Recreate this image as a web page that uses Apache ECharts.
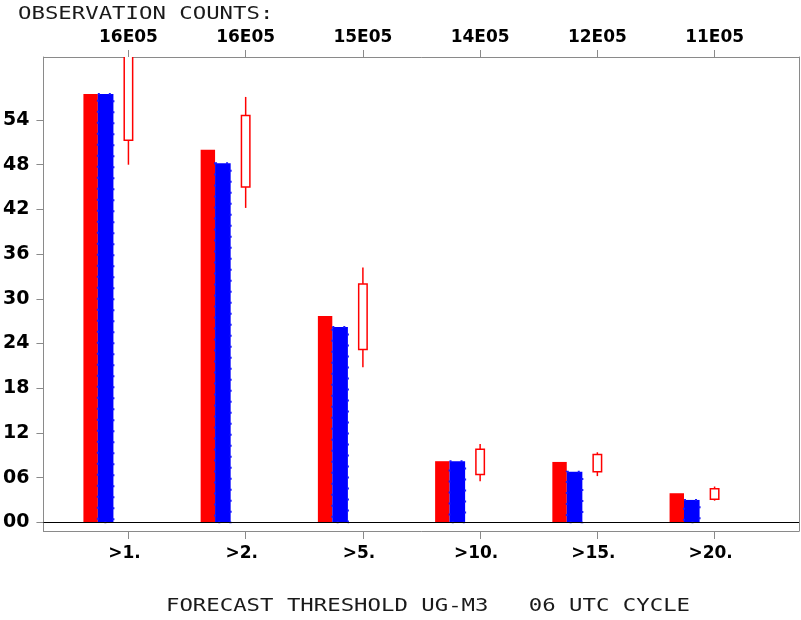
<!DOCTYPE html>
<html>
<head>
<meta charset="utf-8">
<script src="https://cdn.jsdelivr.net/npm/echarts@6/dist/echarts.min.js"></script>
<style>
  html, body { margin: 0; padding: 0; background: #fff; }
  #chart { width: 801px; height: 620px; }
</style>
</head>
<body>
<div id="chart"></div>
<script>
// Thresholds (bottom axis) and observation counts (top axis)
const thresholds = ['>1.', '>2.', '>5.', '>10.', '>15.', '>20.'];
const obsCounts = ['16E05', '16E05', '15E05', '14E05', '12E05', '11E05'];

// Bar heights per threshold
const redValues  = [0.575, 0.500, 0.277, 0.082, 0.081, 0.039];
const blueValues = [0.575, 0.482, 0.262, 0.082, 0.068, 0.030];

// Box-and-whisker ranges per threshold
const wickLow  = [0.480, 0.422, 0.208, 0.055, 0.062, 0.029];
const boxLow   = [0.513, 0.450, 0.232, 0.064, 0.068, 0.031];
const boxHigh  = [0.660, 0.546, 0.320, 0.098, 0.091, 0.045];
const wickHigh = [0.690, 0.571, 0.342, 0.105, 0.094, 0.048];

// Left axis tick values
const yTicks = [0, 0.06, 0.12, 0.18, 0.24, 0.30, 0.36, 0.42, 0.48, 0.54];

const catIdx = thresholds.map((_, i) => i);
const X_MIN = -0.725, X_MAX = 5.72;
const Y_MIN = -0.0117, Y_MAX = 0.6246;
const GRAY = '#8a8a8a';

function barRenderer(left, right, style) {
  return function (params, api) {
    const i = api.value(0), v = api.value(1);
    const p0 = api.coord([i + left, v]);
    const p1 = api.coord([i + right, 0]);
    return {
      type: 'rect',
      shape: { x: p0[0], y: p0[1], width: p1[0] - p0[0], height: p1[1] - p0[1] },
      style: style
    };
  };
}

function candleRenderer(params, api) {
  const i = api.value(0);
  const half = 0.036;
  const wl = api.coord([i, api.value(1)]);
  const bl = api.coord([i - half, api.value(2)]);
  const bh = api.coord([i + half, api.value(3)]);
  const wh = api.coord([i, api.value(4)]);
  const line = { stroke: '#ff0000', lineWidth: 1.5, fill: null };
  return {
    type: 'group',
    children: [
      { type: 'line', shape: { x1: wl[0], y1: wl[1], x2: wl[0], y2: bl[1] }, style: line },
      { type: 'line', shape: { x1: wh[0], y1: bh[1], x2: wh[0], y2: wh[1] }, style: line },
      { type: 'rect', shape: { x: bl[0], y: bh[1], width: bh[0] - bl[0], height: bl[1] - bh[1] },
        style: { fill: '#ffffff', stroke: '#ff0000', lineWidth: 1.5 } }
    ]
  };
}

const boldLabel = { fontFamily: 'DejaVu Sans', fontWeight: 'bold', color: '#000' };
const frameLine = { show: true, onZero: false, lineStyle: { color: GRAY, width: 1 } };

const chart = echarts.init(document.getElementById('chart'), null, { renderer: 'canvas' });
chart.setOption({
  animation: false,
  backgroundColor: '#ffffff',
  grid: { left: 43, right: 2, top: 57, bottom: 89, containLabel: false },
  xAxis: [
    {
      type: 'value', position: 'bottom', min: X_MIN, max: X_MAX,
      axisLine: frameLine,
      axisTick: { show: true, customValues: catIdx, length: 8, lineStyle: { color: GRAY } },
      axisLabel: Object.assign({
        customValues: catIdx, fontSize: 17, margin: 14, padding: [0, 8, 0, 0],
        formatter: v => thresholds[Math.round(v)]
      }, boldLabel),
      splitLine: { show: false }
    },
    {
      type: 'value', position: 'top', min: X_MIN, max: X_MAX,
      axisLine: frameLine,
      axisTick: { show: true, customValues: catIdx, length: 7, lineStyle: { color: GRAY } },
      axisLabel: Object.assign({
        customValues: catIdx, fontSize: 17, margin: 11,
        formatter: v => obsCounts[Math.round(v)]
      }, boldLabel),
      splitLine: { show: false }
    }
  ],
  yAxis: [
    {
      type: 'value', position: 'left', min: Y_MIN, max: Y_MAX,
      axisLine: frameLine,
      axisTick: { show: true, customValues: yTicks, length: 7, lineStyle: { color: GRAY } },
      axisLabel: Object.assign({
        customValues: yTicks, fontSize: 19, margin: 14,
        formatter: v => String(Math.round(v * 100)).padStart(2, '0')
      }, boldLabel),
      splitLine: { show: false }
    },
    {
      type: 'value', position: 'right', min: Y_MIN, max: Y_MAX,
      axisLine: frameLine,
      axisTick: { show: false }, axisLabel: { show: false }, splitLine: { show: false }
    }
  ],
  graphic: [
    {
      type: 'text', x: 18, y: 14, scaleX: 1.24,
      style: { text: 'OBSERVATION COUNTS:', x: 0, y: 0, textAlign: 'left', textVerticalAlign: 'middle',
               font: '18px "DejaVu Sans Mono"', fill: '#1a1a1a' }
    },
    {
      type: 'text', x: 428, y: 606, scaleX: 1.24,
      style: { text: 'FORECAST THRESHOLD UG-M3   06 UTC CYCLE', x: 0, y: 0, textAlign: 'center', textVerticalAlign: 'middle',
               font: '18px "DejaVu Sans Mono"', fill: '#1a1a1a' }
    }
  ],
  series: [
    {
      type: 'custom', name: 'red', clip: true,
      renderItem: barRenderer(-0.384, -0.261, { fill: '#ff0000' }),
      data: catIdx.map(i => [i, redValues[i]]),
      markLine: {
        silent: true, symbol: 'none', label: { show: false },
        lineStyle: { color: '#000', width: 1.2, type: 'solid' },
        data: [{ yAxis: 0 }]
      }
    },
    {
      type: 'custom', name: 'blue', clip: true,
      renderItem: barRenderer(-0.261, -0.128, { fill: '#0000ff', stroke: '#1a1aff', lineWidth: 2, lineDash: [2, 9] }),
      data: catIdx.map(i => [i, blueValues[i]])
    },
    {
      type: 'custom', name: 'range', clip: true,
      renderItem: candleRenderer,
      data: catIdx.map(i => [i, wickLow[i], boxLow[i], boxHigh[i], wickHigh[i]])
    }
  ]
});
</script>
</body>
</html>
